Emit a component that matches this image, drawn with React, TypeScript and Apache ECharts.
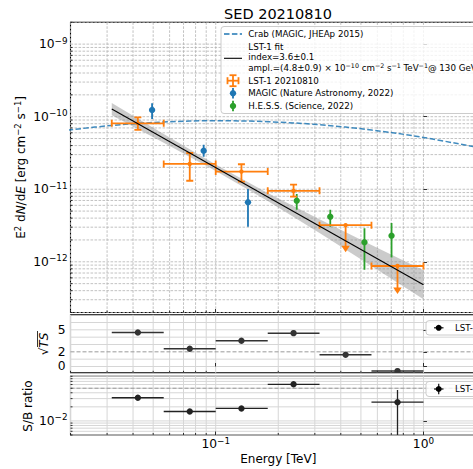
import React, { useEffect, useRef } from "react";
import * as echarts from "echarts";

const FONT = "DejaVu Sans";
const L = (v: number) => Math.log10(v);

// ---------- axis ranges ----------
const E_MIN = 0.02, E_MAX = 2;
const SED_MIN = 2e-13, SED_MAX = 2e-9;
const TS_MIN = -0.86, TS_MAX = 7.05;
const SB_MIN = 5e-3, SB_MAX = 9e-2;

// ---------- tick labels ----------
const xTickEnergies = [0.1, 1];
const sedTicks = [1e-12, 1e-11, 1e-10, 1e-9];
const tsTicks = [0, 2, 5];
const sbTicks = [1e-2];

// ---------- energy bins (TeV) ----------
const binLow = [0.0316, 0.0562, 0.1, 0.178, 0.316, 0.562];
const binHigh = [0.0562, 0.1, 0.178, 0.316, 0.562, 1.0];
const binCenter = [0.0422, 0.075, 0.133, 0.237, 0.422, 0.75];

// ---------- LST-1 flux points (erg cm^-2 s^-1) ----------
const lstFlux = [8.1e-11, 2.23e-11, 1.75e-11, 9.5e-12, 3.2e-12, 8.75e-13];
const lstFluxHigh = [9.8e-11, 3.16e-11, 2.21e-11, 1.16e-11, 3.2e-12, 8.75e-13];
const lstFluxLow = [6.56e-11, 1.31e-11, 1.27e-11, 7.9e-12, 3.2e-12, 8.75e-13];
const lstUpperLimit = [0, 0, 0, 0, 1, 1];
const lstArrowTip = [8.1e-11, 2.23e-11, 1.75e-11, 9.5e-12, 1.35e-12, 3.6e-13];

// ---------- MAGIC ----------
const magicEnergy = [0.0494, 0.0875, 0.143];
const magicFlux = [1.24e-10, 3.4e-11, 6.6e-12];
const magicHigh = [1.53e-10, 4.11e-11, 1.007e-11];
const magicLow = [9.3e-11, 2.81e-11, 3.05e-12];

// ---------- H.E.S.S. ----------
const hessEnergy = [0.2455, 0.356, 0.52, 0.702];
const hessFlux = [6.95e-12, 4.19e-12, 1.86e-12, 2.29e-12];
const hessHigh = [8.6e-12, 5.23e-12, 2.9e-12, 3.43e-12];
const hessLow = [5.23e-12, 3.05e-12, 7.78e-13, 1.15e-12];

// ---------- Crab reference ----------
const crabEnergy = [0.0178, 0.0316, 0.0562, 0.1, 0.178, 0.316, 0.562, 1.0, 1.78];
const crabFlux = [6.33e-11, 7.57e-11, 8.44e-11, 8.79e-11, 8.53e-11, 7.74e-11, 6.55e-11, 5.17e-11, 3.81e-11];

// ---------- LST-1 fit & band ----------
const fitEnergy = [0.0316, 1.0];
const fitFlux = [1.28e-10, 4.83e-13];
const bandEnergy = [0.0316, 0.0562, 0.1, 0.178, 0.316, 0.562, 1.0];
const bandUpper = [1.55e-10, 5.78e-11, 2.2e-11, 8.89e-12, 3.85e-12, 1.71e-12, 7.64e-13];
const bandLower = [1.05e-10, 4.39e-11, 1.79e-11, 6.9e-12, 2.49e-12, 8.75e-13, 3.04e-13];

// ---------- sqrt(TS) ----------
const sqrtTS = [4.64, 2.41, 3.5, 4.55, 1.6, -0.63];
const tsThreshold = 2;

// ---------- S/B ratio ----------
const sbBinIndex = [0, 1, 2, 3, 5];
const sbRatio = [0.0313, 0.0159, 0.0185, 0.0607, 0.0252];
const sbHigh = [0.0313, 0.0159, 0.0185, 0.0607, 0.0457];
const sbLow = [0.0313, 0.0159, 0.0185, 0.0607, 0.001];
const sbThreshold = 0.05;

// ---------- helpers ----------
function logLines(lo: number, hi: number) {
  const major: number[] = [], minor: number[] = [];
  for (let n = Math.floor(L(lo)) - 1; n <= Math.ceil(L(hi)); n++) {
    for (let k = 1; k < 10; k++) {
      const v = k * Math.pow(10, n);
      if (v >= lo * 0.9999 && v <= hi * 1.0001) (k === 1 ? major : minor).push(L(v));
    }
  }
  return { major, minor };
}

const logLabel = (v: number) => {
  const n = Math.round(v);
  return `{b|10}{s|${n < 0 ? "\u2212" : ""}${Math.abs(n)}}`;
};
const tickRich = {
  b: { fontFamily: FONT, fontSize: 12.3, color: "#000", lineHeight: 16 },
  s: { fontFamily: FONT, fontSize: 8.8, color: "#000", verticalAlign: "top", lineHeight: 9 },
};

const GRID_LEFT = 70.5, GRID_W = 415.5;
const gridBoxes = [
  { top: 22.3, height: 290.2 },
  { top: 314.8, height: 58 },
  { top: 376.3, height: 58.7 },
];

const DECOR_STYLES: any[] = [
  { stroke: "#b3b3b3", lineWidth: 0.8, lineDash: [2.6, 1.4] },
  { stroke: "#d6d6d6", lineWidth: 1 },
  { tick: 2, stroke: "#000", lineWidth: 0.8 },
  { stroke: "#9a9a9a", lineWidth: 1, lineDash: [4, 2] },
];

function decorSeries(gi: number, items: number[][], xRef: number, yRef: number) {
  return {
    type: "custom",
    xAxisIndex: gi,
    yAxisIndex: gi,
    silent: true,
    z: 0,
    data: items,
    renderItem: (params: any, api: any) => {
      const orient = api.value(0), v = api.value(1), st = DECOR_STYLES[api.value(2)];
      const cs = params.coordSys;
      const style: any = { stroke: st.stroke, lineWidth: st.lineWidth };
      if (st.lineDash) style.lineDash = st.lineDash;
      if (orient === 0) {
        const px = api.coord([v, yRef])[0];
        if (st.tick) {
          const b = cs.y + cs.height;
          return { type: "line", shape: { x1: px, y1: b, x2: px, y2: b - st.tick }, style };
        }
        return { type: "line", shape: { x1: px, y1: cs.y, x2: px, y2: cs.y + cs.height }, style };
      }
      const py = api.coord([xRef, v])[1];
      if (st.tick) {
        return { type: "line", shape: { x1: cs.x, y1: py, x2: cs.x + st.tick, y2: py }, style };
      }
      return { type: "line", shape: { x1: cs.x, y1: py, x2: cs.x + cs.width, y2: py }, style };
    },
  };
}

type ErrStyle = { color: string; lw: number; cap: number; r: number };
function errSeries(gi: number, data: number[][], st: ErrStyle, z: number, name: string) {
  return {
    type: "custom",
    name,
    xAxisIndex: gi,
    yAxisIndex: gi,
    z,
    clip: true,
    data,
    renderItem: (params: any, api: any) => {
      const x = api.value(0), y = api.value(1);
      const xl = api.value(2), xh = api.value(3), yl = api.value(4), yh = api.value(5);
      const tip = api.value(6), ul = api.value(7);
      const c = api.coord([x, y]);
      const ls = { stroke: st.color, lineWidth: st.lw };
      const ch: any[] = [];
      const line = (x1: number, y1: number, x2: number, y2: number) =>
        ch.push({ type: "line", shape: { x1, y1, x2, y2 }, style: ls });
      if (xl !== xh) {
        const a = api.coord([xl, y]), b = api.coord([xh, y]);
        line(a[0], a[1], b[0], b[1]);
        if (st.cap) {
          line(a[0], a[1] - st.cap, a[0], a[1] + st.cap);
          line(b[0], b[1] - st.cap, b[0], b[1] + st.cap);
        }
      }
      if (yl !== yh) {
        const a = api.coord([x, yl]), b = api.coord([x, yh]);
        line(a[0], a[1], b[0], b[1]);
        if (st.cap) {
          line(a[0] - st.cap, a[1], a[0] + st.cap, a[1]);
          line(b[0] - st.cap, b[1], b[0] + st.cap, b[1]);
        }
      }
      if (ul) {
        const t = api.coord([x, tip]);
        line(c[0], c[1], t[0], t[1] - 5);
        ch.push({
          type: "polygon",
          shape: { points: [[t[0], t[1]], [t[0] - 4.2, t[1] - 6.5], [t[0] + 4.2, t[1] - 6.5]] },
          style: { fill: st.color },
        });
      }
      ch.push({ type: "circle", shape: { cx: c[0], cy: c[1], r: st.r }, style: { fill: st.color } });
      return { type: "group", children: ch };
    },
  };
}

function buildOption() {
  const ex = logLines(E_MIN, E_MAX);
  const ey = logLines(SED_MIN, SED_MAX);
  const sy = logLines(SB_MIN, SB_MAX);
  const xAll = ex.major.concat(ex.minor);

  const decor0: number[][] = [];
  xAll.forEach((v) => decor0.push([0, v, 0]));
  ey.major.concat(ey.minor).forEach((v) => decor0.push([1, v, 0]));
  ex.minor.forEach((v) => decor0.push([0, v, 2]));
  ey.minor.forEach((v) => decor0.push([1, v, 2]));

  const decor1: number[][] = [];
  xAll.forEach((v) => decor1.push([0, v, 1]));
  for (let i = 0; i <= 6; i++) if (i !== tsThreshold) decor1.push([1, i, 1]);
  decor1.push([1, tsThreshold, 3]);
  ex.minor.forEach((v) => decor1.push([0, v, 2]));

  const decor2: number[][] = [];
  xAll.forEach((v) => decor2.push([0, v, 1]));
  sy.major.concat(sy.minor).forEach((v) => decor2.push([1, v, 1]));
  decor2.push([1, L(sbThreshold), 3]);
  ex.minor.forEach((v) => decor2.push([0, v, 2]));
  sy.minor.forEach((v) => decor2.push([1, v, 2]));

  const xMid = (L(E_MIN) + L(E_MAX)) / 2;

  const lstData = binCenter.map((e, i) => [
    L(e), L(lstFlux[i]), L(binLow[i]), L(binHigh[i]), L(lstFluxLow[i]), L(lstFluxHigh[i]), L(lstArrowTip[i]), lstUpperLimit[i],
  ]);
  const magicData = magicEnergy.map((e, i) => [
    L(e), L(magicFlux[i]), L(e), L(e), L(magicLow[i]), L(magicHigh[i]), L(magicFlux[i]), 0,
  ]);
  const hessData = hessEnergy.map((e, i) => [
    L(e), L(hessFlux[i]), L(e), L(e), L(hessLow[i]), L(hessHigh[i]), L(hessFlux[i]), 0,
  ]);
  const tsData = binCenter.map((e, i) => [L(e), sqrtTS[i], L(binLow[i]), L(binHigh[i]), sqrtTS[i], sqrtTS[i], sqrtTS[i], 0]);
  const sbData = sbBinIndex.map((b, i) => [
    L(binCenter[b]), L(sbRatio[i]), L(binLow[b]), L(binHigh[b]), L(Math.max(sbLow[i], SB_MIN * 0.5)), L(sbHigh[i]), L(sbRatio[i]), 0,
  ]);

  const grids = gridBoxes.map((g) => ({
    left: GRID_LEFT, top: g.top, width: GRID_W, height: g.height,
    show: true, borderColor: "#000", borderWidth: 1.1, backgroundColor: "transparent",
    containLabel: false, outerBoundsMode: "none",
  }));

  const xAxes = [0, 1, 2].map((i) => ({
    type: "value", gridIndex: i, min: L(E_MIN), max: L(E_MAX),
    axisLine: { show: false }, splitLine: { show: false },
    axisTick: { show: true, inside: true, length: 3.5, customValues: xTickEnergies.map(L), lineStyle: { color: "#000", width: 0.8 } },
    axisLabel: i === 2
      ? { show: true, customValues: xTickEnergies.map(L), formatter: logLabel, rich: tickRich, margin: 1 }
      : { show: false },
  }));

  const yAxes = [
    {
      type: "value", gridIndex: 0, min: L(SED_MIN), max: L(SED_MAX),
      axisLine: { show: false }, splitLine: { show: false },
      axisTick: { show: true, inside: true, length: 3.5, customValues: sedTicks.map(L), lineStyle: { color: "#000", width: 0.8 } },
      axisLabel: { show: true, customValues: sedTicks.map(L), formatter: logLabel, rich: tickRich, margin: 3 },
    },
    {
      type: "value", gridIndex: 1, min: TS_MIN, max: TS_MAX,
      axisLine: { show: false }, splitLine: { show: false },
      axisTick: { show: true, inside: true, length: 3.5, customValues: tsTicks, lineStyle: { color: "#000", width: 0.8 } },
      axisLabel: { show: true, customValues: tsTicks, fontFamily: FONT, fontSize: 12.3, color: "#000", margin: 5 },
    },
    {
      type: "value", gridIndex: 2, min: L(SB_MIN), max: L(SB_MAX),
      axisLine: { show: false }, splitLine: { show: false },
      axisTick: { show: true, inside: true, length: 3.5, customValues: sbTicks.map(L), lineStyle: { color: "#000", width: 0.8 } },
      axisLabel: { show: true, customValues: sbTicks.map(L), formatter: logLabel, rich: tickRich, margin: 3 },
    },
  ];

  const series: any[] = [
    decorSeries(0, decor0, xMid, L(1e-11)),
    decorSeries(1, decor1, xMid, 3),
    decorSeries(2, decor2, xMid, -1.5),
    {
      type: "custom", name: "band", xAxisIndex: 0, yAxisIndex: 0, z: 1, silent: true,
      data: [[xMid, L(1e-11)]],
      renderItem: (params: any, api: any) => {
        const up = bandEnergy.map((e, i) => api.coord([L(e), L(bandUpper[i])]));
        const lo = bandEnergy.map((e, i) => api.coord([L(e), L(bandLower[i])])).reverse();
        return { type: "polygon", shape: { points: up.concat(lo) }, style: { fill: "rgba(140,140,140,0.45)" } };
      },
    },
    {
      type: "line", name: "Crab (MAGIC, JHEAp 2015)", xAxisIndex: 0, yAxisIndex: 0, z: 2,
      data: crabEnergy.map((e, i) => [L(e), L(crabFlux[i])]),
      symbol: "none", smooth: 0.4, silent: true,
      lineStyle: { color: "#1f77b4", width: 1.5, type: [5.5, 2.4], opacity: 0.85 },
    },
    errSeries(0, magicData, { color: "#1f77b4", lw: 1.8, cap: 0, r: 3.2 }, 4, "MAGIC"),
    errSeries(0, hessData, { color: "#2ca02c", lw: 1.8, cap: 0, r: 3.2 }, 4, "HESS"),
    errSeries(0, lstData, { color: "#ff7f0e", lw: 1.8, cap: 3.5, r: 2.2 }, 5, "LST-1"),
    {
      type: "line", name: "LST-1 fit", xAxisIndex: 0, yAxisIndex: 0, z: 6,
      data: fitEnergy.map((e, i) => [L(e), L(fitFlux[i])]),
      symbol: "none", silent: true, lineStyle: { color: "#000", width: 1.1 },
    },
    errSeries(1, tsData, { color: "#333", lw: 1.5, cap: 0, r: 3.2 }, 4, "sqrtTS"),
    errSeries(2, sbData, { color: "#222", lw: 1.3, cap: 0, r: 3.2 }, 4, "SB"),
  ];

  const txt = (x: number, y: number, text: string, extra: any = {}) => ({
    type: "text", x, y, z: 101,
    style: { text, fontFamily: FONT, fontSize: 8.7, fill: "#000", align: "left", verticalAlign: "middle", ...extra },
  });
  const ln = (x1: number, y1: number, x2: number, y2: number, stroke: string, lw: number, dash?: number[]) => ({
    type: "line", z: 101, shape: { x1, y1, x2, y2 },
    style: dash ? { stroke, lineWidth: lw, lineDash: dash } : { stroke, lineWidth: lw },
  });

  const legRich = {
    n: { fontFamily: FONT, fontSize: 8.7, fill: "#000", lineHeight: 12 },
    s: { fontFamily: FONT, fontSize: 6.3, fill: "#000", verticalAlign: "top", lineHeight: 7 },
  };

  const graphic: any[] = [
    // title
    { type: "text", x: 278, y: 13.5, z: 101, style: { text: "SED 20210810", fontFamily: FONT, fontSize: 14.5, fill: "#000", align: "center", verticalAlign: "middle" } },
    // x label
    { type: "text", x: 278.3, y: 459, z: 101, style: { text: "Energy [TeV]", fontFamily: FONT, fontSize: 12, fill: "#000", align: "center", verticalAlign: "middle" } },
    // y label main
    {
      type: "text", x: 21, y: 167.4, rotation: Math.PI / 2, z: 101,
      style: {
        text: "{n|E}{s|2}{n| d}{i|N}{n|/d}{i|E}{n| [erg cm}{s|\u22122}{n| s}{s|\u22121}{n|]}",
        align: "center", verticalAlign: "middle",
        rich: {
          n: { fontFamily: FONT, fontSize: 12, fill: "#000", lineHeight: 16 },
          i: { fontFamily: FONT, fontSize: 12, fontStyle: "italic", fill: "#000", lineHeight: 16 },
          s: { fontFamily: FONT, fontSize: 8.5, fill: "#000", verticalAlign: "top", lineHeight: 9 },
        },
      },
    },
    // sqrt TS label
    {
      type: "group", x: 44, y: 344, rotation: Math.PI / 2, z: 101,
      children: [
        { type: "text", x: 0, y: 0, z: 101, style: { text: "{r|\u221a}{i|TS}", align: "center", verticalAlign: "middle",
          rich: {
            r: { fontFamily: FONT, fontSize: 12, fill: "#000" },
            i: { fontFamily: FONT, fontSize: 12, fontStyle: "italic", fill: "#000" },
          } } },
        { type: "line", z: 101, shape: { x1: -3, y1: -6.5, x2: 13, y2: -6.5 }, style: { stroke: "#000", lineWidth: 0.8 } },
      ],
    },
    // S/B label
    { type: "text", x: 28, y: 406, rotation: Math.PI / 2, z: 101, style: { text: "S/B ratio", fontFamily: FONT, fontSize: 12, fill: "#000", align: "center", verticalAlign: "middle" } },

    // main legend
    { type: "rect", z: 100, shape: { x: 221, y: 26.5, width: 300, height: 87, r: 3 }, style: { fill: "rgba(255,255,255,0.8)", stroke: "#cccccc", lineWidth: 1 } },
    ln(224, 34, 242, 34, "#1f77b4", 1.5, [5.5, 2.4]),
    txt(248.3, 34, "Crab (MAGIC, JHEAp 2015)"),
    ln(224, 58.3, 242, 58.3, "#000", 1.1),
    txt(248.3, 46.7, "LST-1 fit"),
    txt(248.3, 57.2, "index=3.6\u00b10.1"),
    {
      type: "text", x: 248.3, y: 68, z: 101,
      style: {
        text: "{n|ampl.=(4.8\u00b10.9) \u00d7 10}{s|\u221210}{n| cm}{s|\u22122}{n| s}{s|\u22121}{n| TeV}{s|\u22121}{n|@ 130 GeV}",
        align: "left", verticalAlign: "middle", rich: legRich,
      },
    },
    // LST-1 handle
    ln(227.5, 80.7, 238.5, 80.7, "#ff7f0e", 1.8),
    ln(227.5, 77.2, 227.5, 84.2, "#ff7f0e", 1.8),
    ln(238.5, 77.2, 238.5, 84.2, "#ff7f0e", 1.8),
    ln(233, 75.2, 233, 86.2, "#ff7f0e", 1.8),
    ln(229.5, 75.2, 236.5, 75.2, "#ff7f0e", 1.8),
    ln(229.5, 86.2, 236.5, 86.2, "#ff7f0e", 1.8),
    txt(248.3, 80.7, "LST-1 20210810"),
    // MAGIC handle
    ln(233, 88, 233, 98.6, "#1f77b4", 1.8),
    { type: "circle", z: 101, shape: { cx: 233, cy: 93.3, r: 3.2 }, style: { fill: "#1f77b4" } },
    txt(248.3, 93.3, "MAGIC (Nature Astronomy, 2022)"),
    // HESS handle
    ln(233, 100.7, 233, 111.3, "#2ca02c", 1.8),
    { type: "circle", z: 101, shape: { cx: 233, cy: 106, r: 3.2 }, style: { fill: "#2ca02c" } },
    txt(248.3, 106, "H.E.S.S. (Science, 2022)"),

    // sqrt TS legend
    { type: "rect", z: 100, shape: { x: 426, y: 320.7, width: 100, height: 14.3, r: 3 }, style: { fill: "rgba(255,255,255,0.8)", stroke: "#cccccc", lineWidth: 1 } },
    ln(434, 327.8, 443.5, 327.8, "#222", 1.3),
    { type: "circle", z: 101, shape: { cx: 438.7, cy: 327.8, r: 3 }, style: { fill: "#000" } },
    txt(455, 327.6, "LST-1 20210810"),
    // S/B legend
    { type: "rect", z: 100, shape: { x: 426, y: 381.5, width: 100, height: 15, r: 3 }, style: { fill: "rgba(255,255,255,0.8)", stroke: "#cccccc", lineWidth: 1 } },
    ln(434, 389, 443.5, 389, "#222", 1.3),
    ln(438.7, 383.8, 438.7, 394.2, "#222", 1.3),
    { type: "circle", z: 101, shape: { cx: 438.7, cy: 389, r: 3 }, style: { fill: "#000" } },
    txt(455, 388.8, "LST-1 20210810"),
  ];

  return {
    animation: false,
    backgroundColor: "#fff",
    textStyle: { fontFamily: FONT },
    grid: grids,
    xAxis: xAxes,
    yAxis: yAxes,
    series,
    graphic,
  };
}

export default function App() {
  const ref = useRef<HTMLDivElement>(null);
  useEffect(() => {
    if (!ref.current) return;
    const chart = echarts.init(ref.current, null, { renderer: "svg" });
    chart.setOption(buildOption() as any);
    return () => chart.dispose();
  }, []);
  return (
    <div style={{ position: "fixed", left: 0, top: 0, width: 473, height: 469, overflow: "hidden", background: "#fff" }}>
      <div ref={ref} style={{ width: 473, height: 469 }} />
    </div>
  );
}
